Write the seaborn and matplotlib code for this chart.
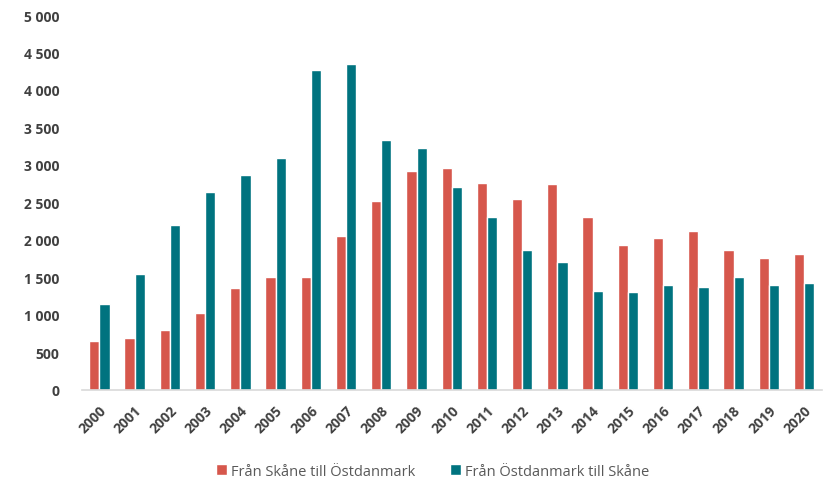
import matplotlib
matplotlib.use("Agg")
import matplotlib.pyplot as plt
import seaborn as sns
import pandas as pd
from matplotlib.ticker import FuncFormatter

years = [str(y) for y in range(2000, 2021)]
skane_to_ostdanmark = [650, 690, 800, 1020, 1360, 1510, 1500, 2050, 2520, 2920,
                       2960, 2760, 2540, 2750, 2310, 1930, 2030, 2120, 1860, 1760, 1810]
ostdanmark_to_skane = [1150, 1550, 2200, 2640, 2860, 3090, 4270, 4340, 3330, 3220,
                       2710, 2300, 1860, 1700, 1320, 1310, 1400, 1370, 1510, 1400, 1430]
series_names = ["Från Skåne till Östdanmark", "Från Östdanmark till Skåne"]
colors = ["#D6574C", "#00737F"]

df = pd.DataFrame({
    "År": years * 2,
    "Antal": skane_to_ostdanmark + ostdanmark_to_skane,
    "Riktning": [series_names[0]] * len(years) + [series_names[1]] * len(years),
})

sns.set_theme(style="white")
plt.rcParams["font.family"] = ["Open Sans", "DejaVu Sans"]

fig = plt.figure(figsize=(8.35, 4.85), dpi=100)
ax = fig.add_axes([0.098, 0.194, 0.886, 0.773])

sns.barplot(data=df, x="År", y="Antal", hue="Riktning", palette=colors,
            width=0.58, gap=0, ax=ax, saturation=1, legend=True)

ax.set_ylim(0, 5000)
ax.set_yticks(range(0, 5001, 500))
ax.yaxis.set_major_formatter(FuncFormatter(lambda v, p: f"{int(v):,}".replace(",", " ")))
ax.set_xlim(-0.5, len(years) - 0.5)
ax.set_xlabel("")
ax.set_ylabel("")

for side in ["top", "right", "left"]:
    ax.spines[side].set_visible(False)
ax.spines["bottom"].set_color("#D9D9D9")
ax.spines["bottom"].set_linewidth(1.2)
ax.tick_params(axis="both", length=0, colors="#404040")
ax.tick_params(axis="y", labelsize=10, pad=16)
ax.tick_params(axis="x", labelsize=10, pad=9)
for lbl in ax.get_yticklabels() + ax.get_xticklabels():
    lbl.set_fontweight("bold")
plt.setp(ax.get_xticklabels(), rotation=45, ha="right", rotation_mode="anchor")

handles, labels = ax.get_legend_handles_labels()
ax.get_legend().remove()
fig.legend(handles, labels, loc="center", bbox_to_anchor=(0.518, 0.026), ncol=2,
           frameon=False, fontsize=10.5, handlelength=0.75, handleheight=0.75,
           columnspacing=2.4, handletextpad=0.25, labelcolor="#595959")

fig.savefig("out.png", dpi=100, facecolor="white")
